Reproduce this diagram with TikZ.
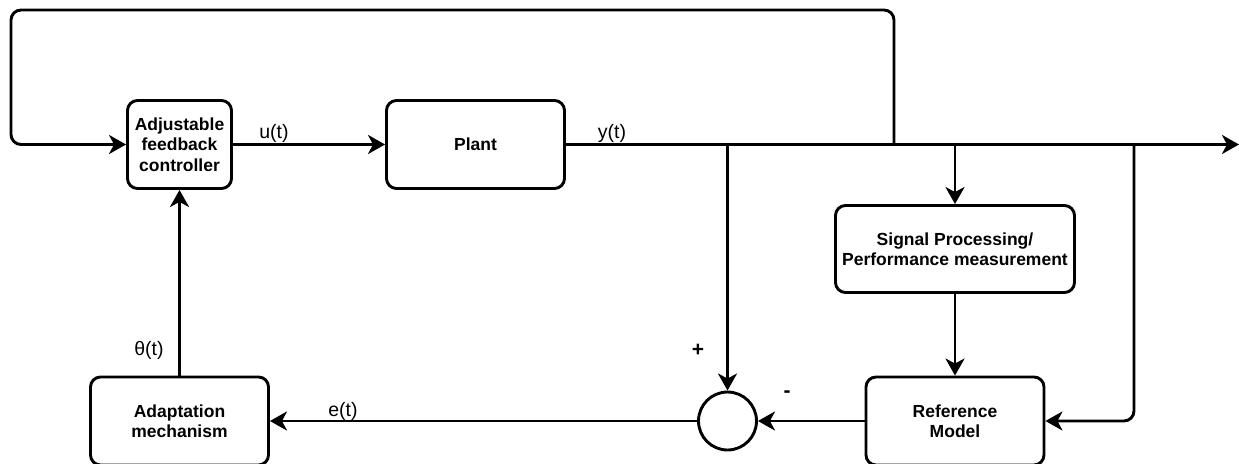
\documentclass[tikz,border=0pt]{standalone}
\usepackage{fontspec}
\setmainfont{Liberation Sans}
\usetikzlibrary{arrows.meta}
\begin{document}
\begin{tikzpicture}[x=1pt,y=-1pt, line width=2.9pt,
 box/.style={draw, rounded corners=10pt, align=center, inner sep=0pt, font=\bfseries\fontsize{17.5}{20.5}\selectfont},
 lbl/.style={font=\fontsize{19.5}{22}\selectfont, inner sep=0pt},
 sgn/.style={font=\bfseries\fontsize{21}{24}\selectfont, inner sep=0pt},
 arr/.style={-{Stealth[length=17pt,width=19pt,inset=5pt]}},
 ]
\useasboundingbox (0,0) rectangle (1239,463);
\node[box, minimum width=104pt, minimum height=88pt] (ctrl) at (179.5,144.5) {Adjustable\\feedback\\controller};
\node[box, minimum width=178pt, minimum height=88pt] (plant) at (475.5,144.5) {Plant};
\node[box, minimum width=239pt, minimum height=87pt] (sp) at (955,249) {Signal Processing/\\Performance measurement};
\node[box, minimum width=178pt, minimum height=88pt] (rm) at (955,421) {Reference\\Model};
\node[box, minimum width=178pt, minimum height=88pt] (adapt) at (179.5,421) {Adaptation\\mechanism};
\node[draw, circle, minimum size=58pt, inner sep=0pt] (sum) at (727.5,421) {};

\coordinate (out) at (1239,144.5);
\coordinate (jloop) at (894,144.5);
\coordinate (ltr) at (894,10);
\coordinate (ltl) at (11,10);
\coordinate (lbl) at (11,144.5);
\coordinate (jsum) at (727.5,144.5);
\coordinate (jsp) at (955,144.5);
\coordinate (jrm) at (1134,144.5);

\draw[arr] (ctrl) -- (plant);
\draw[arr] (plant.east) -- (out);
\draw[arr, rounded corners=10pt] (jloop) -- (ltr) -- (ltl) -- (lbl) -- (ctrl.west);
\draw[arr] (jsum) -- (sum.north);
\draw[arr] (jsp) -- (sp.north);
\draw[arr] (sp) -- (rm);
\draw[arr, rounded corners=10pt] (jrm) |- (rm.east);
\draw[arr] (rm) -- (sum);
\draw[arr] (sum) -- (adapt);
\draw[arr] (adapt) -- (ctrl);

\node[lbl] (lu) at (274,133) {u(t)};
\node[lbl] (ly) at (612,133) {y(t)};
\node[lbl] (lth) at (149,350) {θ(t)};
\node[lbl] (le) at (343,411) {e(t)};
\node[sgn] (lp) at (698,350) {+};
\node[sgn] (lm) at (787,394) {-};
\end{tikzpicture}
\end{document}
